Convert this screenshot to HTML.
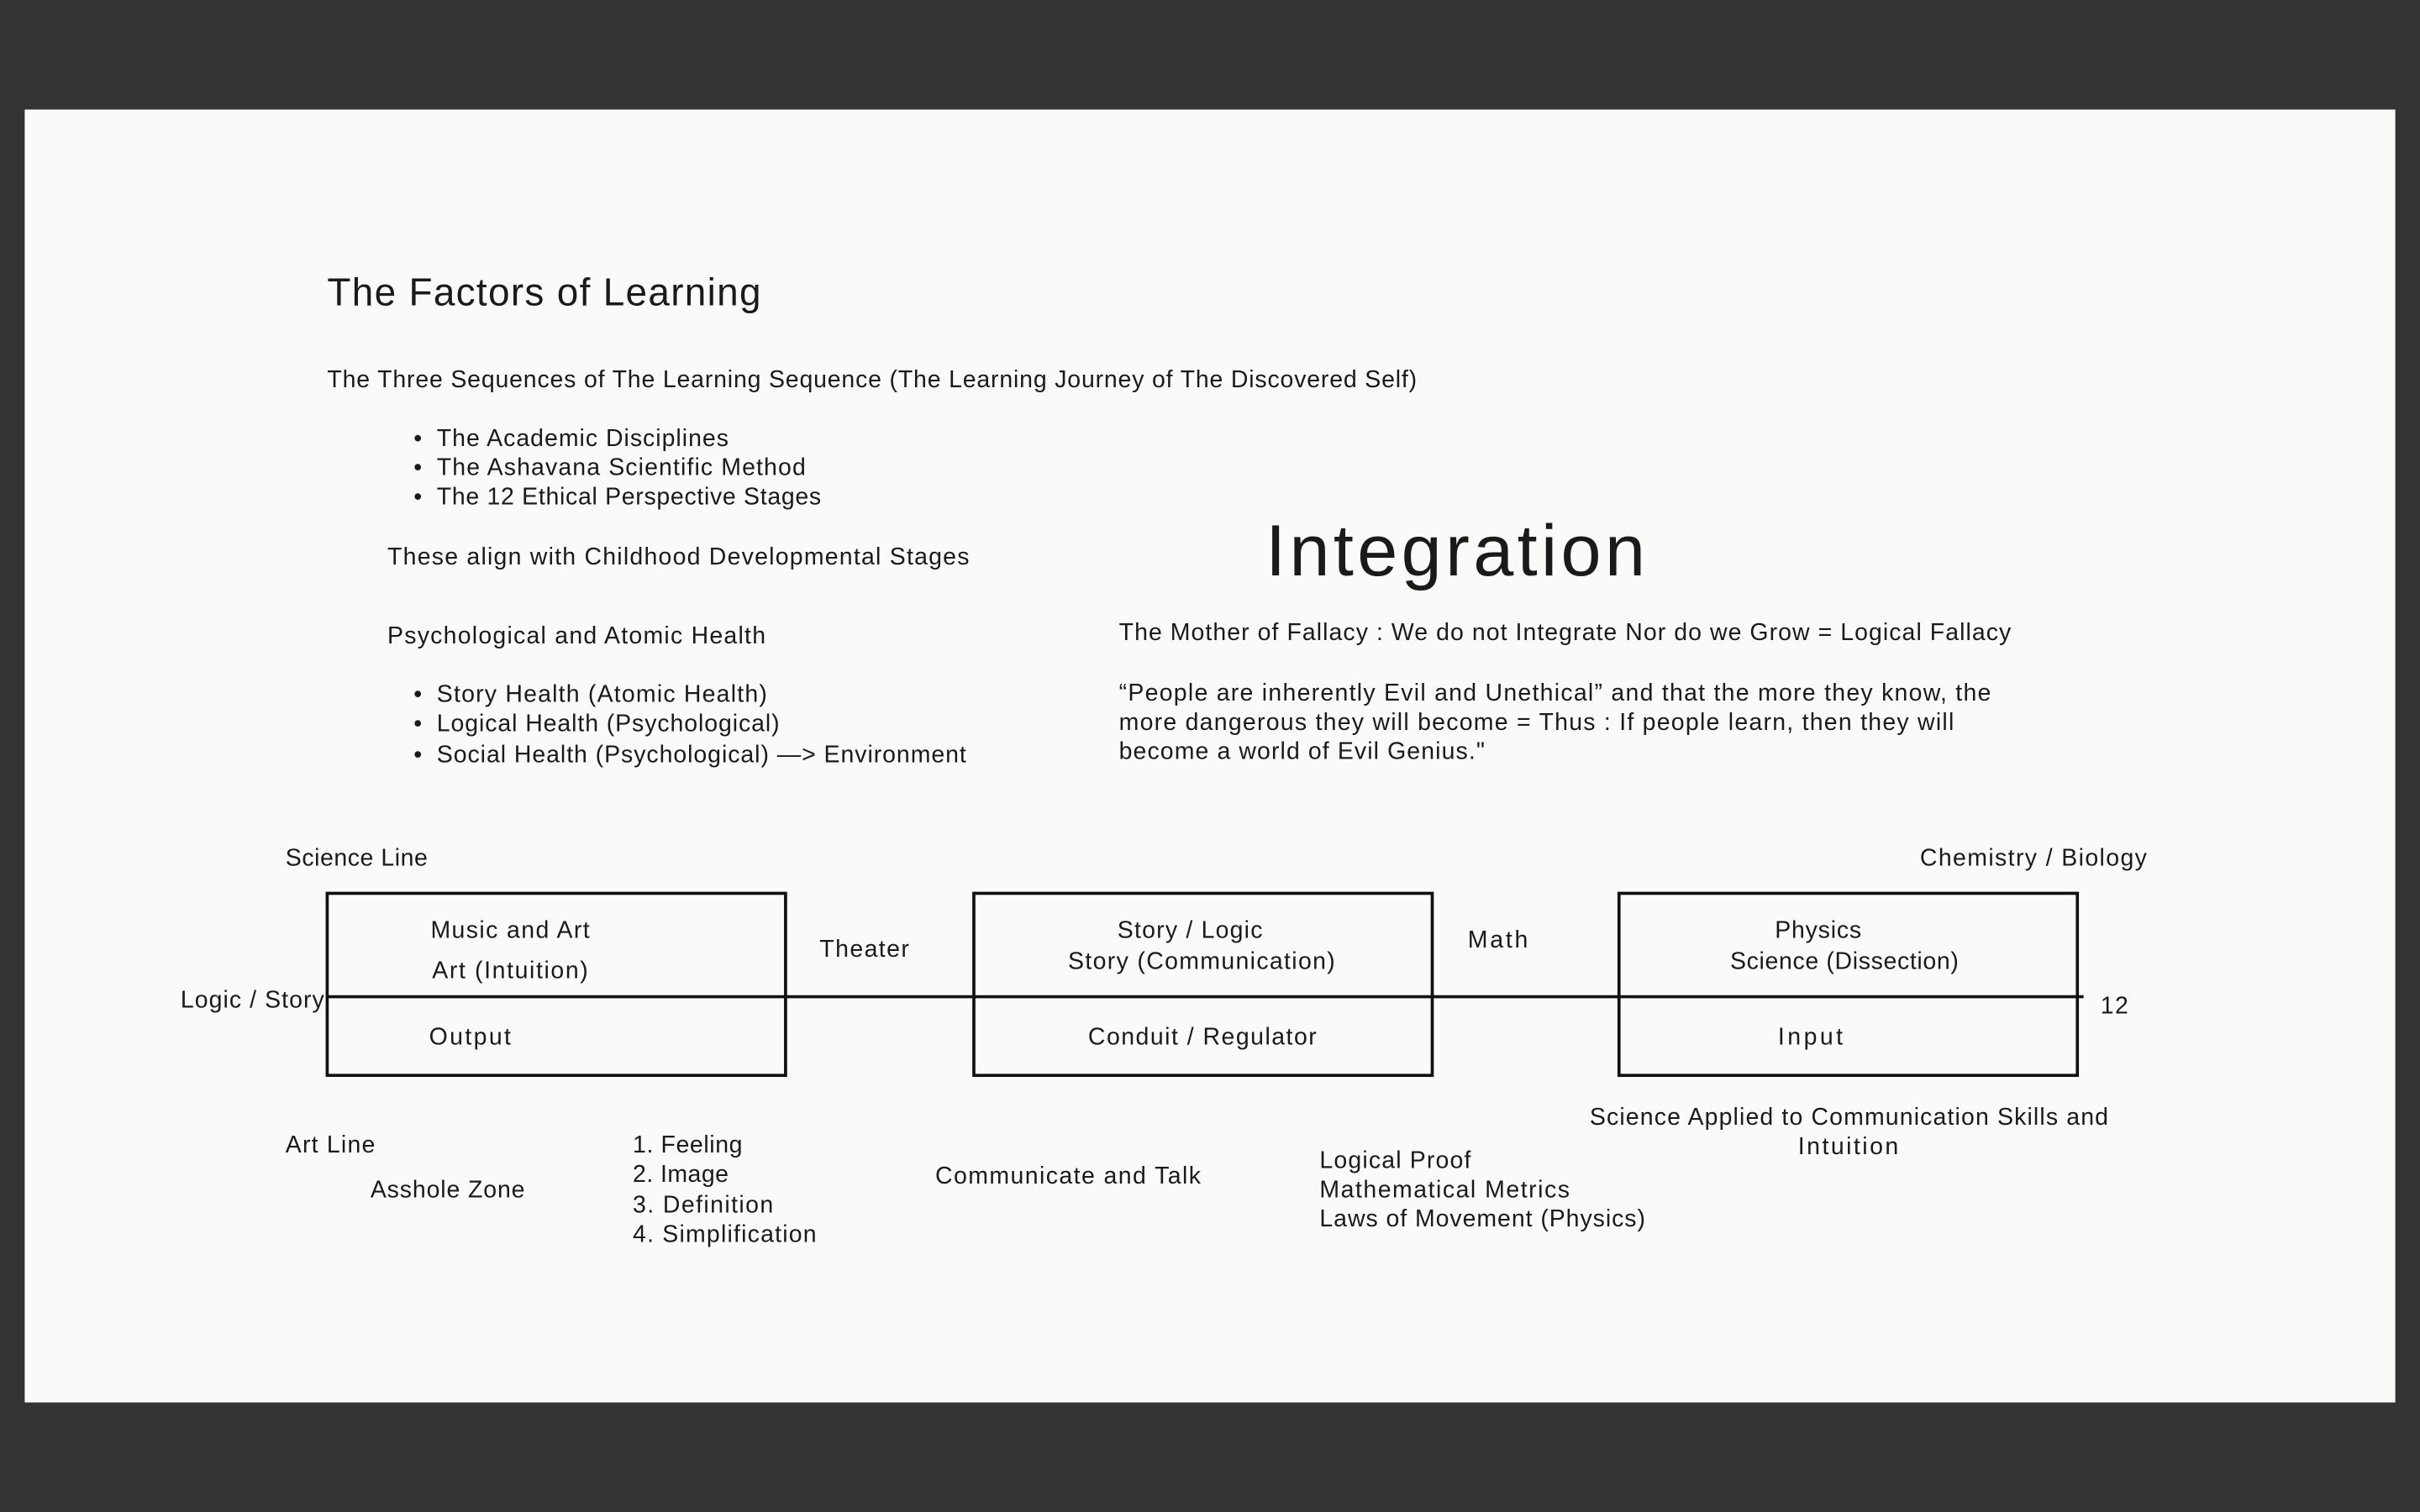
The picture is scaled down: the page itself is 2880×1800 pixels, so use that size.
<!DOCTYPE html>
<html><head><meta charset="utf-8"><style>
html,body{margin:0;padding:0;background:#333;}
svg{display:block;}
text{font-family:"Liberation Sans",sans-serif;fill:#1a1a1a;font-size:15.5px;}
</style></head><body>
<svg width="2880" height="1800" viewBox="0 0 1568 980" xmlns="http://www.w3.org/2000/svg">
<rect x="0" y="0" width="1568" height="980" fill="#333333"/>
<rect x="16" y="71" width="1536" height="838" fill="#fafaf8"/>
<text x="212" y="198" style="font-size:25px" textLength="281">The Factors of Learning</text>
<text x="212" y="251" textLength="706">The Three Sequences of The Learning Sequence (The Learning Journey of The Discovered Self)</text>
<text x="268" y="289">•</text><text x="283" y="289" textLength="189">The Academic Disciplines</text>
<text x="268" y="308">•</text><text x="283" y="308" textLength="239">The Ashavana Scientific Method</text>
<text x="268" y="327">•</text><text x="283" y="327" textLength="249">The 12 Ethical Perspective Stages</text>
<text x="251" y="366" textLength="377">These align with Childhood Developmental Stages</text>
<text x="251" y="417" textLength="245">Psychological and Atomic Health</text>
<text x="268" y="455">•</text><text x="283" y="455" textLength="214">Story Health (Atomic Health)</text>
<text x="268" y="474">•</text><text x="283" y="474" textLength="222">Logical Health (Psychological)</text>
<text x="268" y="494">•</text><text x="283" y="494" textLength="343">Social Health (Psychological) —&gt; Environment</text>
<text x="820" y="373" style="font-size:47px" textLength="246">Integration</text>
<text x="725" y="415" textLength="578">The Mother of Fallacy : We do not Integrate Nor do we Grow = Logical Fallacy</text>
<text x="725" y="454" textLength="565">“People are inherently Evil and Unethical” and that the more they know, the</text>
<text x="725" y="473" textLength="541">more dangerous they will become = Thus : If people learn, then they will</text>
<text x="725" y="492" textLength="237">become a world of Evil Genius."</text>
<text x="185" y="561" textLength="92">Science Line</text>
<text x="1244" y="561" textLength="147">Chemistry / Biology</text>
<g fill="none" stroke="#111" stroke-width="2">
<rect x="212" y="579" width="297" height="118"/>
<rect x="631" y="579" width="297" height="118"/>
<rect x="1049" y="579" width="297" height="118"/>
<line x1="212" y1="646" x2="1350" y2="646"/>
</g>
<text x="279" y="608" textLength="103">Music and Art</text>
<text x="280" y="634" textLength="101">Art (Intuition)</text>
<text x="278" y="677" textLength="53">Output</text>
<text x="531" y="620" textLength="58">Theater</text>
<text x="724" y="608" textLength="94">Story / Logic</text>
<text x="692" y="628" textLength="173">Story (Communication)</text>
<text x="705" y="677" textLength="148">Conduit / Regulator</text>
<text x="951" y="614" textLength="39">Math</text>
<text x="1150" y="608" textLength="56">Physics</text>
<text x="1121" y="628" textLength="148">Science (Dissection)</text>
<text x="1152" y="677" textLength="42">Input</text>
<text x="1361" y="657" textLength="18">12</text>
<text x="117" y="653" textLength="93">Logic / Story</text>
<text x="185" y="747" textLength="58">Art Line</text>
<text x="240" y="776" textLength="100">Asshole Zone</text>
<text x="410" y="747" textLength="71">1. Feeling</text>
<text x="410" y="766" textLength="62">2. Image</text>
<text x="410" y="786" textLength="91">3. Definition</text>
<text x="410" y="805" textLength="119">4. Simplification</text>
<text x="606" y="767" textLength="172">Communicate and Talk</text>
<text x="855" y="757" textLength="98">Logical Proof</text>
<text x="855" y="776" textLength="162">Mathematical Metrics</text>
<text x="855" y="795" textLength="211">Laws of Movement (Physics)</text>
<text x="1030" y="729" textLength="336">Science Applied to Communication Skills and</text>
<text x="1165" y="748" textLength="65">Intuition</text>
</svg>
</body></html>
